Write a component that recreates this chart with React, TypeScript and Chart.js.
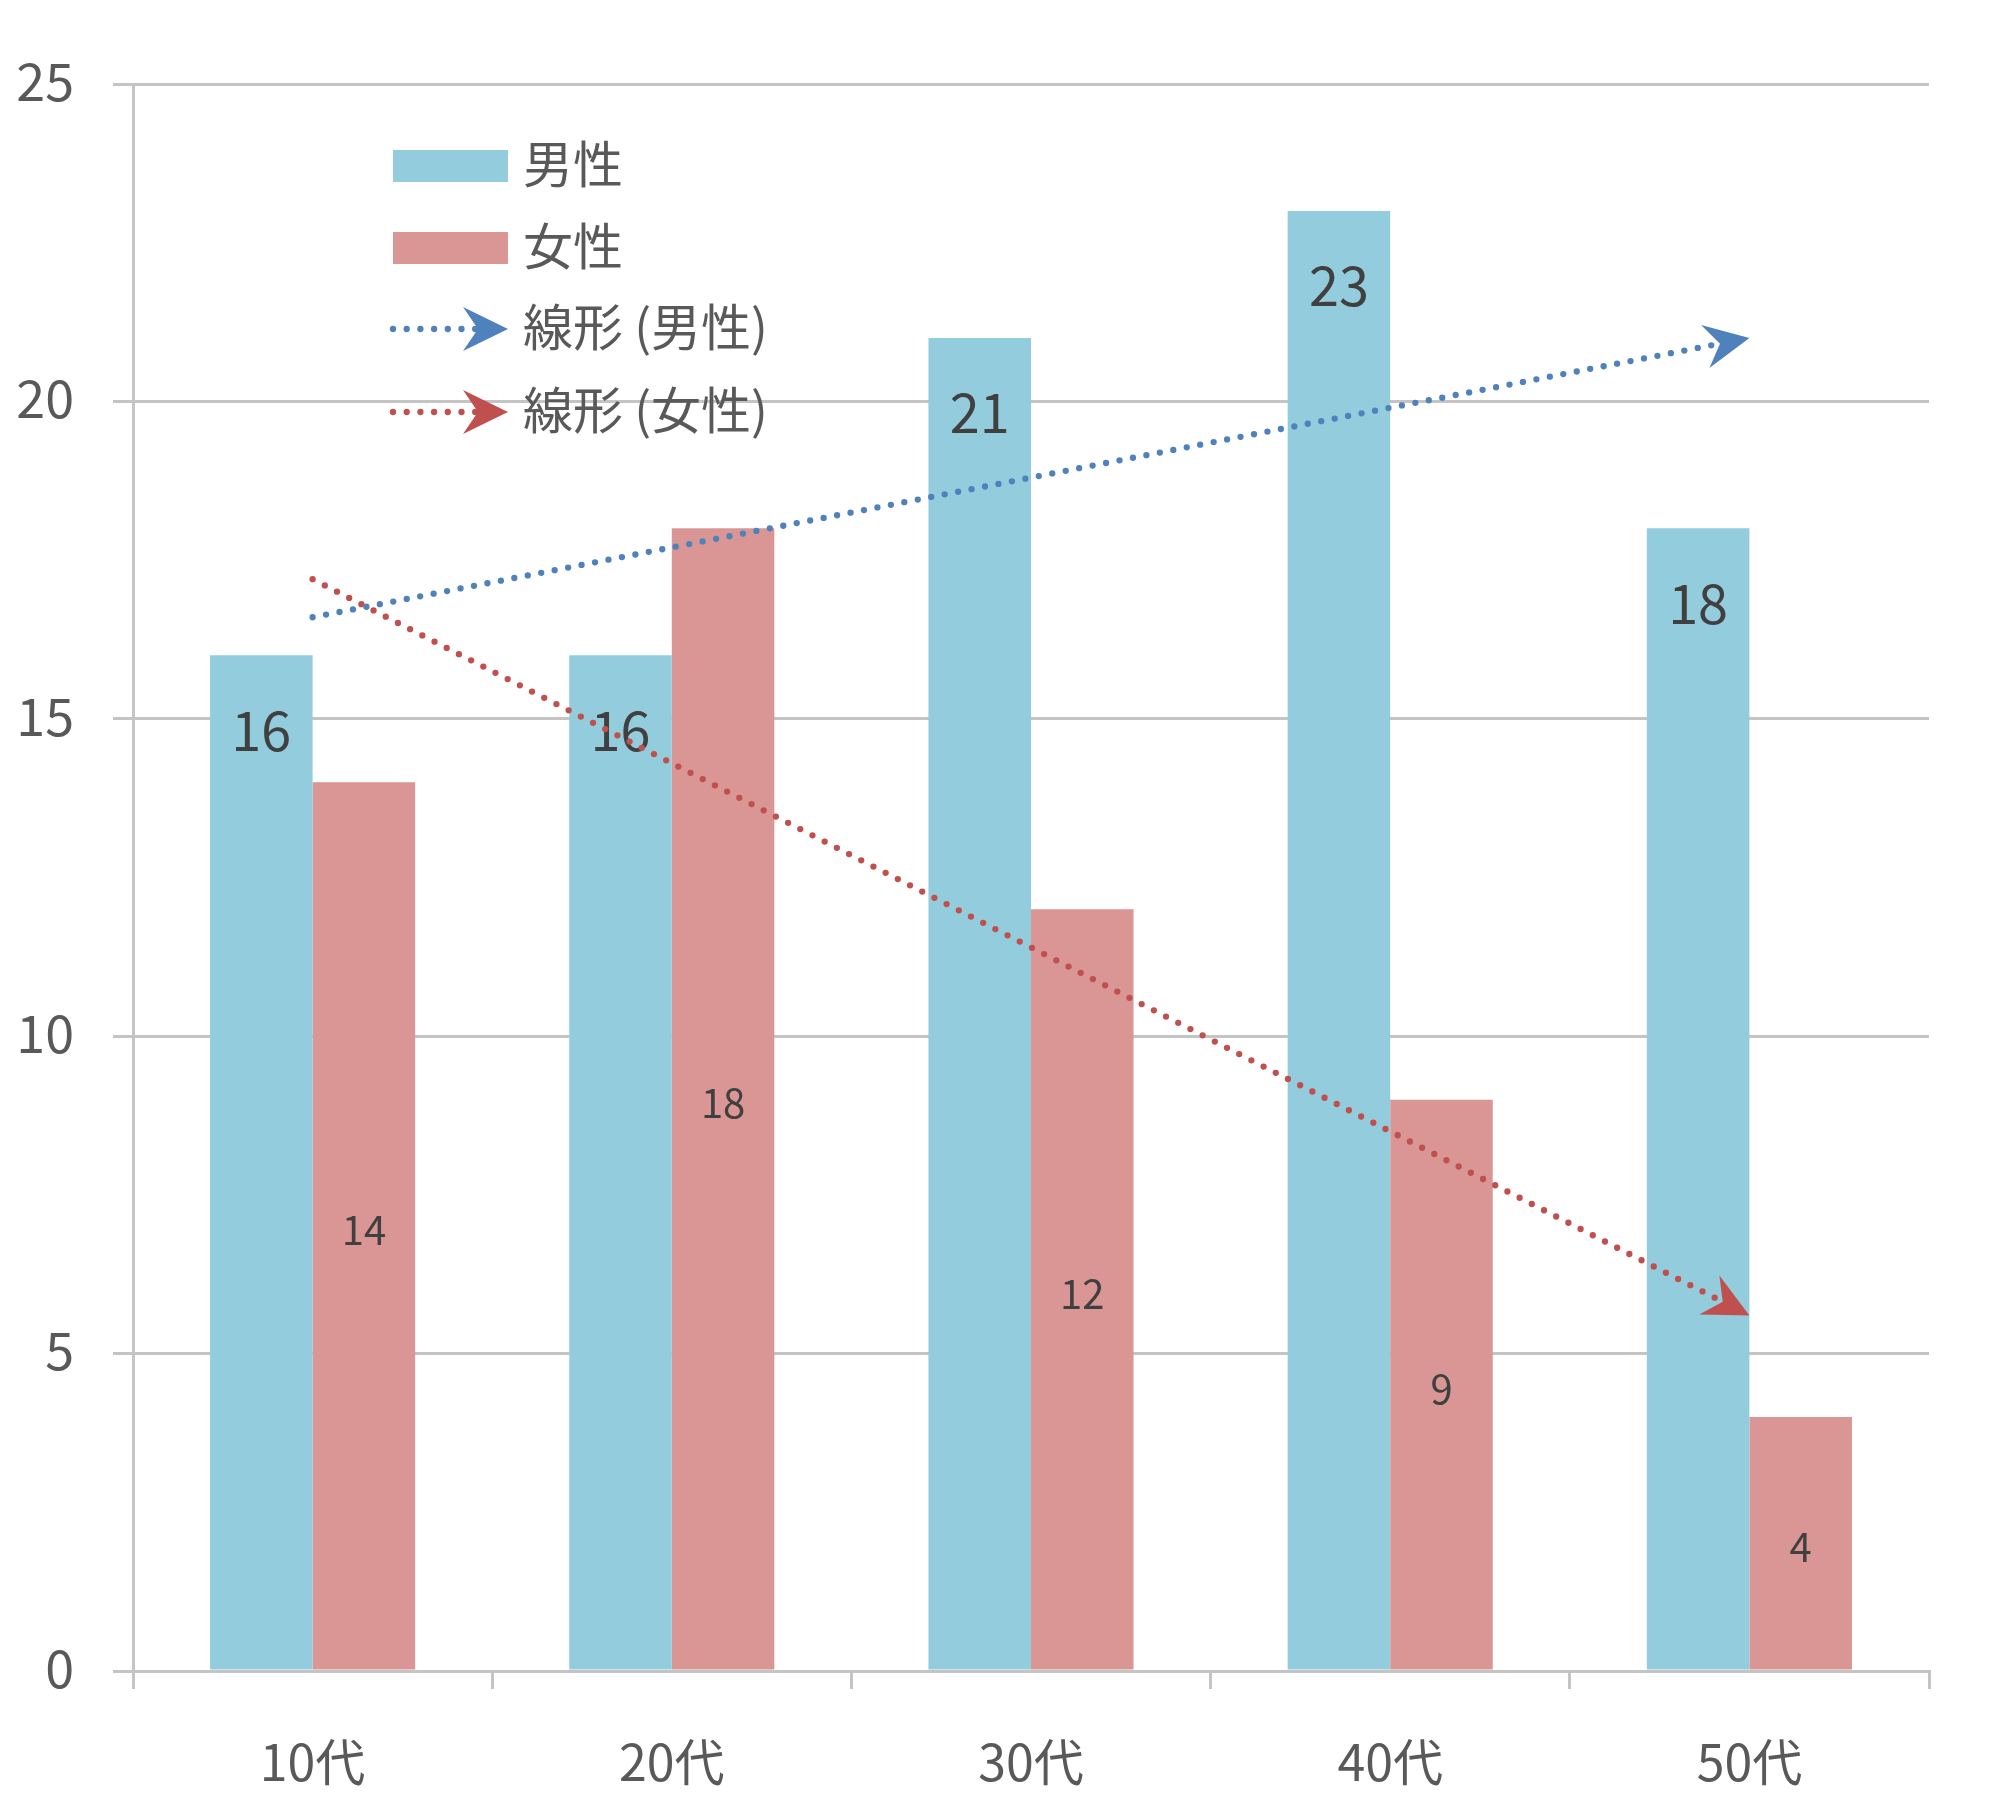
import React, { useEffect, useRef } from "react";
import { Chart, registerables } from "chart.js";

Chart.register(...registerables);

const categories = ["10代", "20代", "30代", "40代", "50代"];
const maleValues = [16, 16, 21, 23, 18];
const femaleValues = [14, 18, 12, 9, 4];
const maleTrend = [16.6, null, null, null, 21.0];
const femaleTrend = [17.2, null, null, null, 5.6];
const seriesLabels = ["男性", "女性", "線形 (男性)", "線形 (女性)"];
const yMin = 0;
const yMax = 25;
const yStep = 5;

const FONT = '"Noto Sans CJK JP", "Noto Sans", sans-serif';
const MALE_BAR = "#93CDDD";
const FEMALE_BAR = "#D99694";
const MALE_LINE = "#4F81BD";
const FEMALE_LINE = "#C0504D";
const AXIS_TEXT = "#595959";
const LABEL_TEXT = "#404040";
const GRID = "#C4C4C4";
const DOT_WIDTH = 6.3;
const DOT_DASH = [0, 13.7];

function drawArrow(ctx: CanvasRenderingContext2D, fx: number, fy: number, tx: number, ty: number, color: string) {
  const dx = tx - fx;
  const dy = ty - fy;
  const len = Math.hypot(dx, dy) || 1;
  const ux = dx / len;
  const uy = dy / len;
  const nx = -uy;
  const ny = ux;
  const L = 45;
  const W = 22;
  const N = 30;
  const bx = tx - ux * L;
  const by = ty - uy * L;
  ctx.save();
  ctx.fillStyle = color;
  ctx.beginPath();
  ctx.moveTo(tx, ty);
  ctx.lineTo(bx + nx * W, by + ny * W);
  ctx.lineTo(tx - ux * N, ty - uy * N);
  ctx.lineTo(bx - nx * W, by - ny * W);
  ctx.closePath();
  ctx.fill();
  ctx.restore();
}

const barLabelPlugin = {
  id: "barLabels",
  afterDatasetDraw(chart: any, args: any) {
    const idx = args.index;
    if (idx !== 0 && idx !== 1) return;
    const ctx = chart.ctx;
    const meta = chart.getDatasetMeta(idx);
    const values = chart.data.datasets[idx].data;
    ctx.save();
    ctx.fillStyle = LABEL_TEXT;
    ctx.textAlign = "center";
    ctx.textBaseline = "middle";
    meta.data.forEach((bar: any, i: number) => {
      const p = bar.getProps(["x", "y", "base"], true);
      if (idx === 0) {
        ctx.font = `54px ${FONT}`;
        ctx.fillText(String(values[i]), p.x, p.y + 75);
      } else {
        ctx.font = `40px ${FONT}`;
        ctx.fillText(String(values[i]), p.x, (p.y + p.base) / 2 + 4);
      }
    });
    ctx.restore();
  },
};

const arrowPlugin = {
  id: "trendArrows",
  afterDatasetsDraw(chart: any) {
    const ctx = chart.ctx;
    [2, 3].forEach((idx) => {
      const meta = chart.getDatasetMeta(idx);
      const data = chart.data.datasets[idx].data;
      const pts = meta.data.filter((_: any, i: number) => data[i] !== null && data[i] !== undefined);
      if (pts.length < 2) return;
      const a = pts[pts.length - 2];
      const b = pts[pts.length - 1];
      drawArrow(ctx, a.x, a.y, b.x, b.y, chart.data.datasets[idx].borderColor);
    });
  },
};

const legendPlugin = {
  id: "customLegend",
  afterDraw(chart: any) {
    const ctx = chart.ctx;
    const ds = chart.data.datasets;
    const x0 = 393;
    const x1 = 508;
    const textX = 523;
    const rows = [166, 248, 329, 412];
    ctx.save();
    ctx.fillStyle = ds[0].backgroundColor;
    ctx.fillRect(x0, rows[0] - 16, x1 - x0, 32);
    ctx.fillStyle = ds[1].backgroundColor;
    ctx.fillRect(x0, rows[1] - 16, x1 - x0, 32);
    [2, 3].forEach((idx, k) => {
      const y = rows[2 + k];
      const color = ds[idx].borderColor;
      ctx.save();
      ctx.strokeStyle = color;
      ctx.lineWidth = DOT_WIDTH;
      ctx.lineCap = "round";
      ctx.setLineDash(DOT_DASH);
      ctx.beginPath();
      ctx.moveTo(x0, y);
      ctx.lineTo(x1 - 25, y);
      ctx.stroke();
      ctx.restore();
      drawArrow(ctx, x0, y, x1, y, color);
    });
    ctx.fillStyle = AXIS_TEXT;
    ctx.font = `50px ${FONT}`;
    ctx.textAlign = "left";
    ctx.textBaseline = "middle";
    ds.forEach((d: any, i: number) => {
      ctx.fillText(d.label, textX, rows[i] - 2);
    });
    ctx.restore();
  },
};

export default function App() {
  const canvasRef = useRef<HTMLCanvasElement | null>(null);

  useEffect(() => {
    document.body.style.margin = "0";
    const canvas = canvasRef.current;
    if (!canvas) return;
    Chart.defaults.font.family = FONT;
    const chart = new Chart(canvas, {
      type: "bar",
      data: {
        labels: categories,
        datasets: [
          {
            type: "bar",
            label: seriesLabels[0],
            data: maleValues,
            backgroundColor: MALE_BAR,
            borderWidth: 0,
            categoryPercentage: 0.571,
            barPercentage: 1.0,
            order: 2,
          },
          {
            type: "bar",
            label: seriesLabels[1],
            data: femaleValues,
            backgroundColor: FEMALE_BAR,
            borderWidth: 0,
            categoryPercentage: 0.571,
            barPercentage: 1.0,
            order: 2,
          },
          {
            type: "line",
            label: seriesLabels[2],
            data: maleTrend,
            borderColor: MALE_LINE,
            backgroundColor: MALE_LINE,
            borderWidth: DOT_WIDTH,
            borderDash: DOT_DASH,
            borderCapStyle: "round",
            pointRadius: 0,
            spanGaps: true,
            fill: false,
            order: 1,
          },
          {
            type: "line",
            label: seriesLabels[3],
            data: femaleTrend,
            borderColor: FEMALE_LINE,
            backgroundColor: FEMALE_LINE,
            borderWidth: DOT_WIDTH,
            borderDash: DOT_DASH,
            borderCapStyle: "round",
            pointRadius: 0,
            spanGaps: true,
            fill: false,
            order: 1,
          },
        ] as any,
      },
      options: {
        animation: false,
        responsive: true,
        maintainAspectRatio: false,
        layout: { padding: { top: 84, right: 61, left: 0, bottom: 0 } },
        plugins: {
          legend: { display: false },
          tooltip: { enabled: false },
        },
        scales: {
          x: {
            offset: true,
            grid: {
              display: true,
              offset: true,
              drawOnChartArea: false,
              drawTicks: true,
              tickLength: 18,
              color: GRID,
              lineWidth: 3,
            },
            border: { display: true, color: GRID, width: 3 },
            ticks: {
              color: AXIS_TEXT,
              font: { size: 50, family: FONT },
              padding: 43,
              maxRotation: 0,
            },
            afterFit: (scale: any) => {
              scale.height = 137;
            },
          },
          y: {
            min: yMin,
            max: yMax,
            grid: {
              color: GRID,
              lineWidth: 3,
              drawTicks: true,
              tickLength: 20,
            },
            border: { display: true, color: GRID, width: 3 },
            ticks: {
              stepSize: yStep,
              color: AXIS_TEXT,
              font: { size: 52, family: FONT },
              padding: 39,
              labelOffset: -3,
            },
            afterFit: (scale: any) => {
              scale.width = 133;
            },
          },
        },
      } as any,
      plugins: [barLabelPlugin, arrowPlugin, legendPlugin],
    });
    return () => {
      chart.destroy();
    };
  }, []);

  return (
    <div style={{ position: "absolute", left: 0, top: 0, width: 1990, height: 1808 }}>
      <canvas ref={canvasRef} />
    </div>
  );
}
